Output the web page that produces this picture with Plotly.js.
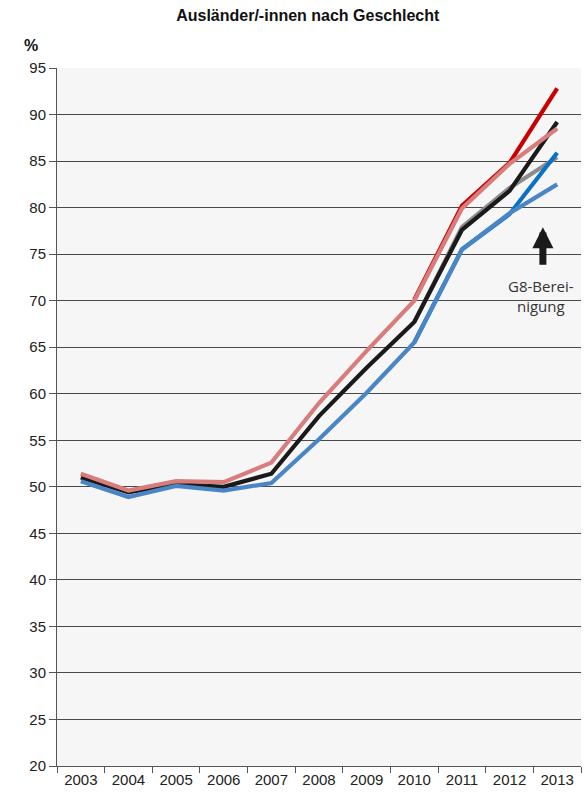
<!DOCTYPE html>
<html><head><meta charset="utf-8">
<script src="https://cdn.plot.ly/plotly-3.0.1.min.js"></script>
<style>body{margin:0;background:#fff}#c{width:584px;height:800px}</style>
</head><body><div id="c"></div>
<script>
const years = ['2003','2004','2005','2006','2007','2008','2009','2010','2011','2012','2013'];
// adjusted (bereinigt) series drawn on top
const weiblich = [51.4, 49.6, 50.6, 50.5, 52.6, 59.0, 64.6, 70.0, 79.9, 84.7, 88.5];
const insgesamt = [51.0, 49.4, 50.3, 50.0, 51.4, 57.6, 62.8, 67.7, 77.6, 81.8, 89.2];
const maennlich = [50.6, 48.9, 50.1, 49.6, 50.4, 55.1, 60.1, 65.5, 75.5, 79.4, 82.5];
// unadjusted series (visible only at the end)
const yearsLate = ['2010','2011','2012','2013'];
const weiblichUnb = [70.1, 80.2, 84.8, 92.8];
const insgesamtB = [67.7, 77.9, 82.1, 85.4];
const maennlichUnb = [65.5, 75.5, 79.3, 85.9];

const lw = 4.2;
const traces = [
  {x: yearsLate, y: weiblichUnb, color: '#c80000'},
  {x: yearsLate, y: insgesamtB, color: '#8c8c8c'},
  {x: yearsLate, y: maennlichUnb, color: '#0a72c4'},
  {x: years, y: insgesamt, color: '#1a1a1a'},
  {x: years, y: weiblich, color: '#d87c7c'},
  {x: years, y: maennlich, color: '#4a86c6'}
].map(t => ({type:'scatter', mode:'lines', x:t.x, y:t.y, line:{color:t.color, width:lw}, hoverinfo:'skip'}));

const fam = '"Liberation Sans", Arial, sans-serif';
const tickFont = {family:fam, size:15, color:'#222'};
const layout = {
  width:584, height:800,
  margin:{l:57, r:3, t:68, b:34},
  paper_bgcolor:'#ffffff', plot_bgcolor:'#f6f6f6',
  showlegend:false,
  title:{text:'<b>Ausländer/-innen nach Geschlecht</b>', x:0.527, xanchor:'center', y:0.988, yanchor:'top',
    font:{family:fam, size:16, color:'#111'}},
  xaxis:{type:'category', categoryorder:'array', categoryarray:years, range:[-0.5,10.5], showgrid:false, showline:true, linecolor:'#555', linewidth:1,
    ticks:'outside', tickson:'boundaries', ticklen:6, tickcolor:'#555', tickfont:tickFont, fixedrange:true, zeroline:false},
  yaxis:{range:[20,95], dtick:5, tick0:20, showgrid:true, gridcolor:'#4a4a4a', gridwidth:1, showline:true, linecolor:'#555', linewidth:1,
    ticks:'outside', ticklen:7, tickcolor:'#555', tickfont:tickFont, zeroline:false, fixedrange:true},
  annotations:[
    {xref:'paper', yref:'paper', x:-0.067, y:1.047, text:'<b>%</b>', showarrow:false,
      font:{family:fam, size:16, color:'#111'}},
    {xref:'x', yref:'y', x:9.66, y:70.5, text:'G8-Berei-<br>nigung', showarrow:false,
      font:{family:'"Open Sans", sans-serif', size:15, color:'#333'}, align:'center'},
    {xref:'x', yref:'y', x:9.7, y:77.9, ax:9.7, ay:73.7, axref:'x', ayref:'y', text:'', showarrow:true,
      arrowhead:2, arrowsize:0.6, arrowwidth:7, arrowcolor:'#1a1a1a', standoff:0}
  ]
};
Plotly.newPlot('c', traces, layout, {displayModeBar:false, staticPlot:true});
</script></body></html>
